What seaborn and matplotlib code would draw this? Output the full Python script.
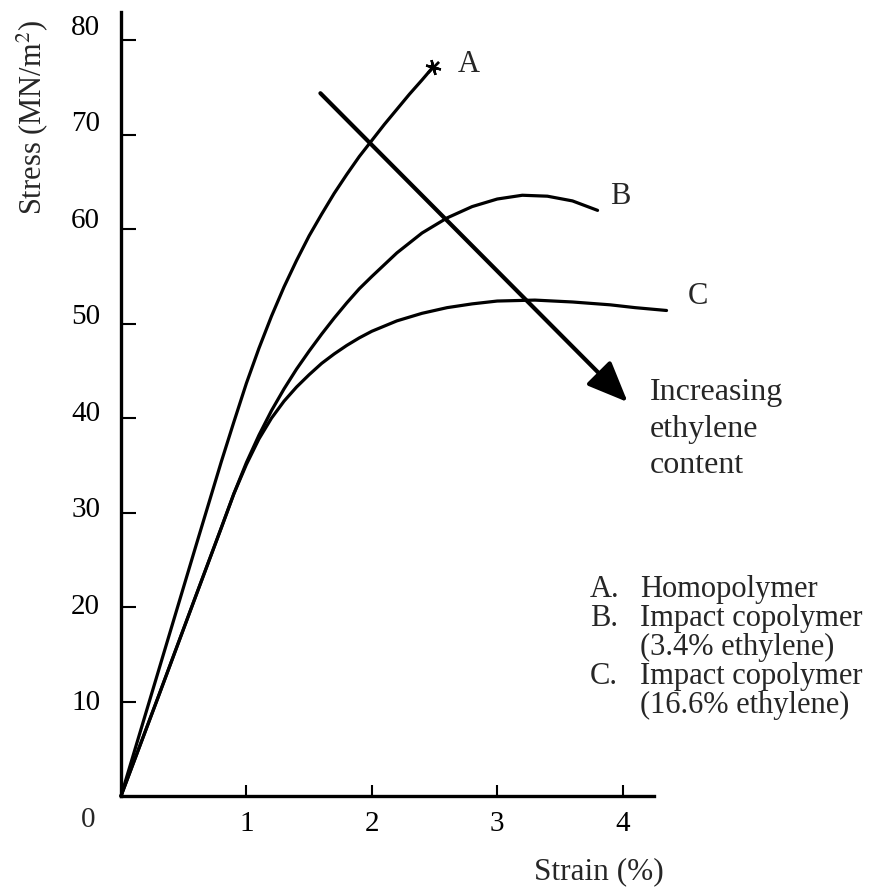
import numpy as np
import pandas as pd
import matplotlib
matplotlib.use("Agg")
import matplotlib.pyplot as plt
from matplotlib.transforms import ScaledTranslation
import seaborn as sns

# ---- data ----
strain_A = [0.0, 0.3, 0.6, 0.8, 0.9, 1.0, 1.1, 1.2, 1.3, 1.4, 1.5, 1.6, 1.7, 1.8, 1.9,
            2.0, 2.1, 2.2, 2.3, 2.4, 2.49]
stress_A = [0.0, 13.3, 26.6, 35.4, 39.6, 43.7, 47.4, 50.8, 53.9, 56.7, 59.3, 61.6, 63.8,
            65.8, 67.7, 69.4, 71.1, 72.7, 74.3, 75.8, 77.2]

strain_B = [0.0, 0.3, 0.6, 0.8, 0.9, 1.0, 1.1, 1.2, 1.3, 1.4, 1.5, 1.6, 1.7, 1.8, 1.9,
            2.0, 2.2, 2.4, 2.6, 2.8, 3.0, 3.2, 3.4, 3.6, 3.8]
stress_B = [0.0, 10.6, 21.3, 28.4, 32.0, 35.3, 38.2, 40.8, 43.1, 45.2, 47.1, 48.9, 50.6,
            52.2, 53.7, 55.0, 57.5, 59.6, 61.2, 62.4, 63.2, 63.6, 63.5, 63.0, 62.0]

strain_C = [0.0, 0.3, 0.6, 0.8, 0.9, 1.0, 1.1, 1.2, 1.3, 1.4, 1.5, 1.6, 1.7, 1.8, 1.9,
            2.0, 2.2, 2.4, 2.6, 2.8, 3.0, 3.3, 3.6, 3.9, 4.1, 4.35]
stress_C = [0.0, 10.6, 21.3, 28.4, 32.0, 35.1, 37.8, 40.0, 41.8, 43.3, 44.6, 45.8, 46.8,
            47.7, 48.5, 49.2, 50.3, 51.1, 51.7, 52.1, 52.4, 52.5, 52.3, 52.0, 51.7, 51.4]

curve_labels = ["A", "B", "C"]
arrow_start = (1.59, 74.4)
arrow_end = (4.04, 41.7)

x_ticks = [1, 2, 3, 4]
y_ticks = [10, 20, 30, 40, 50, 60, 70, 80]

legend_letters = ["A.", "B.", "", "C.", ""]
legend_texts = ["Homopolymer", "Impact copolymer", "(3.4% ethylene)",
                "Impact copolymer", "(16.6% ethylene)"]
arrow_text = ["Increasing", "ethylene", "content"]

# ---- style ----
sns.set_style("ticks")
plt.rcParams["font.family"] = ["Liberation Serif", "DejaVu Serif"]
plt.rcParams["mathtext.fontset"] = "stix"

W, H = 881, 892
fig = plt.figure(figsize=(W / 100, H / 100), dpi=100)
ax = fig.add_axes([121 / W, 96 / H, 533 / W, 784 / H])


def px(x, y):
    return (x / W, 1 - y / H)


for sx, sy in [(strain_A, stress_A), (strain_B, stress_B), (strain_C, stress_C)]:
    df = pd.DataFrame({"strain": sx, "stress": sy})
    sns.lineplot(data=df, x="strain", y="stress", sort=False, estimator=None,
                 color="black", lw=2.3, ax=ax)
for ln in ax.lines:
    ln.set_clip_on(False)
    ln.set_solid_joinstyle("round")

# end marker of curve A
ax.plot([strain_A[-1]], [stress_A[-1]], marker=(6, 2, 15), ms=11, mew=1.7,
        color="black", clip_on=False)

# arrow
ax.annotate("", xy=arrow_end, xytext=arrow_start, annotation_clip=False,
            arrowprops=dict(arrowstyle="-|>,head_length=1.0,head_width=0.42",
                            lw=3.0, color="black", mutation_scale=25,
                            shrinkA=0, shrinkB=0))

ax.set_xlim(0, 4.25)
ax.set_ylim(0, 83)
ax.set_xticks(x_ticks)
ax.set_xticklabels([str(v) for v in x_ticks])
ax.set_yticks(y_ticks)
ax.set_yticklabels([str(v) for v in y_ticks])
ax.set_xlabel("")
ax.set_ylabel("")
sns.despine(ax=ax)
for s in ["left", "bottom"]:
    ax.spines[s].set_linewidth(2.4)
    ax.spines[s].set_color("black")
ax.tick_params(axis="y", direction="in", length=11, width=1.5, pad=15,
               labelsize=21, colors="black")
ax.tick_params(axis="x", direction="in", length=8, width=1.5, pad=11,
               labelsize=21, colors="black")

# scanned figure: y tick labels sit slightly above their ticks
for lab, v in zip(ax.get_yticklabels(), y_ticks):
    dy = (1.5 + (v - 10) * 0.2) / 100
    lab.set_transform(lab.get_transform() + ScaledTranslation(0, dy, fig.dpi_scale_trans))

# axis texts
fig.text(*px(88, 820), "0", fontsize=21, ha="center", va="center")
fig.text(*px(32, 117), "Stress (MN/m$^2$)", fontsize=22, rotation=90,
         ha="center", va="center")
fig.text(*px(599, 872), "Strain (%)", fontsize=22.5, ha="center", va="center")

# curve labels
for lab, (x, y) in zip(curve_labels, [(469, 65), (620, 197), (698, 297)]):
    fig.text(*px(x, y), lab, fontsize=22, ha="center", va="center")

for i, line in enumerate(arrow_text):
    fig.text(*px(650, 400 + 36.5 * i), line, fontsize=23, ha="left", va="baseline")

for i, (let, line) in enumerate(zip(legend_letters, legend_texts)):
    yb = 597 + 29 * i
    if let:
        fig.text(*px(590, yb), let, fontsize=22, ha="left", va="baseline")
    fig.text(*px(640, yb), line, fontsize=22, ha="left", va="baseline")

fig.savefig("out.png", dpi=100)
